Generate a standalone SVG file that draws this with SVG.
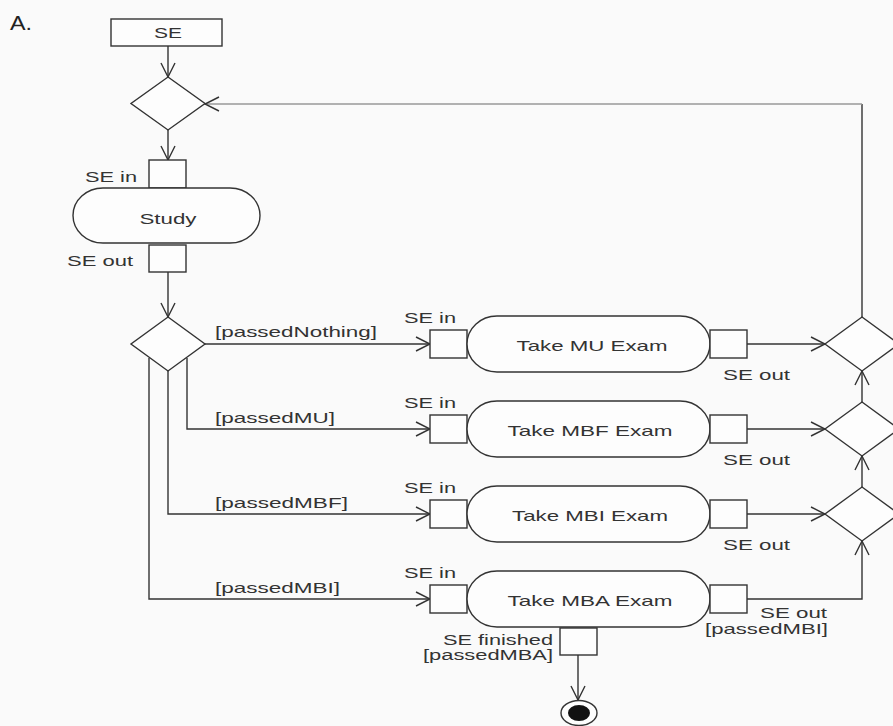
<svg xmlns="http://www.w3.org/2000/svg" width="893" height="726" viewBox="0 0 893 726">
<defs>
<marker id="arr" markerUnits="userSpaceOnUse" markerWidth="18" markerHeight="18" refX="15" refY="8" orient="auto" viewBox="0 0 18 16">
<path d="M1,1 L15,8 L1,15" fill="none" stroke="#333" stroke-width="1.4"/>
</marker>
<style>
.ln{fill:none;stroke:#333;stroke-width:1.4}
.lt{fill:none;stroke:#999;stroke-width:1.6}
.box{fill:#fdfdfd;stroke:#333;stroke-width:1.4}
.t{font-family:"Liberation Sans",Arial,sans-serif;font-size:15px;fill:#333}
.s{font-size:14px}
.c{text-anchor:middle}
</style>
</defs>
<rect width="893" height="726" fill="#fafafa"/>
<text x="10" y="30" font-family="Liberation Sans, Arial, sans-serif" font-size="21" fill="#222" textLength="22" lengthAdjust="spacingAndGlyphs">A.</text>

<g id="connectors">
<path class="ln" d="M168,46 L168,77" marker-end="url(#arr)"/>
<path class="ln" d="M168,130 L168,160" marker-end="url(#arr)"/>
<path class="ln" d="M168,272 L168,317" marker-end="url(#arr)"/>
<path class="ln" d="M862,317 L862,104"/>
<path class="lt" d="M862,104 L205,104" marker-end="url(#arr)"/>
<path class="ln" d="M205,344 L430,344" marker-end="url(#arr)"/>
<path class="ln" d="M187,358 L187,429 L430,429" marker-end="url(#arr)"/>
<path class="ln" d="M168,371 L168,514 L430,514" marker-end="url(#arr)"/>
<path class="ln" d="M149,358 L149,599 L430,599" marker-end="url(#arr)"/>
<path class="ln" d="M747,344 L825,344" marker-end="url(#arr)"/>
<path class="ln" d="M747,429 L825,429" marker-end="url(#arr)"/>
<path class="ln" d="M747,514 L825,514" marker-end="url(#arr)"/>
<path class="ln" d="M747,599 L862,599 L862,541" marker-end="url(#arr)"/>
<path class="ln" d="M862,487 L862,456" marker-end="url(#arr)"/>
<path class="ln" d="M862,402 L862,371" marker-end="url(#arr)"/>
<path class="ln" d="M578,655 L578,700" marker-end="url(#arr)"/>
</g>

<g id="se-object">
<rect class="box" x="111" y="19" width="111" height="27"/>
<text class="t c" x="168" y="38" textLength="28" lengthAdjust="spacingAndGlyphs">SE</text>
</g>

<g id="merge-top">
<polygon class="box" points="168,77 205,103.5 168,130 131,103.5"/>
</g>

<g id="study">
<rect class="box" x="149" y="160" width="37" height="28"/>
<text class="t" x="85" y="182" textLength="52" lengthAdjust="spacingAndGlyphs">SE in</text>
<rect class="box" x="73" y="188" width="187" height="55" rx="30" ry="27.5"/>
<text class="t c" x="168" y="224" textLength="57" lengthAdjust="spacingAndGlyphs">Study</text>
<rect class="box" x="149" y="245" width="37" height="27"/>
<text class="t" x="67" y="266" textLength="66" lengthAdjust="spacingAndGlyphs">SE out</text>
</g>

<g id="decision">
<polygon class="box" points="168,317 205,344 168,371 131,344"/>
<text class="t" x="215" y="337" textLength="162" lengthAdjust="spacingAndGlyphs">[passedNothing]</text>
<text class="t" x="215" y="423" textLength="120" lengthAdjust="spacingAndGlyphs">[passedMU]</text>
<text class="t" x="215" y="508" textLength="133" lengthAdjust="spacingAndGlyphs">[passedMBF]</text>
<text class="t" x="215" y="593" textLength="125" lengthAdjust="spacingAndGlyphs">[passedMBI]</text>
</g>

<g id="take-mu">
<rect class="box" x="430" y="330" width="37" height="28"/>
<text class="t" x="404" y="323" textLength="52" lengthAdjust="spacingAndGlyphs">SE in</text>
<rect class="box" x="467" y="316" width="243" height="56" rx="30" ry="28"/>
<text class="t c" x="592" y="351" textLength="151" lengthAdjust="spacingAndGlyphs">Take MU Exam</text>
<rect class="box" x="710" y="330" width="37" height="28"/>
<text class="t" x="723" y="380" textLength="67" lengthAdjust="spacingAndGlyphs">SE out</text>
</g>

<g id="take-mbf">
<rect class="box" x="430" y="415" width="37" height="28"/>
<text class="t" x="404" y="408" textLength="52" lengthAdjust="spacingAndGlyphs">SE in</text>
<rect class="box" x="467" y="401" width="243" height="56" rx="30" ry="28"/>
<text class="t c" x="590" y="436" textLength="165" lengthAdjust="spacingAndGlyphs">Take MBF Exam</text>
<rect class="box" x="710" y="415" width="37" height="28"/>
<text class="t" x="723" y="465" textLength="67" lengthAdjust="spacingAndGlyphs">SE out</text>
</g>

<g id="take-mbi">
<rect class="box" x="430" y="500" width="37" height="28"/>
<text class="t" x="404" y="493" textLength="52" lengthAdjust="spacingAndGlyphs">SE in</text>
<rect class="box" x="467" y="486" width="243" height="56" rx="30" ry="28"/>
<text class="t c" x="590" y="521" textLength="156" lengthAdjust="spacingAndGlyphs">Take MBI Exam</text>
<rect class="box" x="710" y="500" width="37" height="28"/>
<text class="t" x="723" y="550" textLength="67" lengthAdjust="spacingAndGlyphs">SE out</text>
</g>

<g id="take-mba">
<rect class="box" x="430" y="585" width="37" height="28"/>
<text class="t" x="404" y="578" textLength="52" lengthAdjust="spacingAndGlyphs">SE in</text>
<rect class="box" x="467" y="571" width="243" height="56" rx="30" ry="28"/>
<text class="t c" x="590" y="606" textLength="165" lengthAdjust="spacingAndGlyphs">Take MBA Exam</text>
<rect class="box" x="710" y="585" width="37" height="28"/>
<text class="t" x="760" y="618" textLength="67" lengthAdjust="spacingAndGlyphs">SE out</text>
<text class="t" x="705" y="634" textLength="123" lengthAdjust="spacingAndGlyphs">[passedMBI]</text>
<rect class="box" x="560" y="628" width="37" height="27"/>
<text class="t s" x="443" y="645" textLength="110" lengthAdjust="spacingAndGlyphs">SE finished</text>
<text class="t s" x="423" y="660" textLength="130" lengthAdjust="spacingAndGlyphs">[passedMBA]</text>
</g>

<g id="merge-1">
<polygon class="box" points="862,317 899,344 862,371 825,344"/>
</g>
<g id="merge-2">
<polygon class="box" points="862,402 899,429 862,456 825,429"/>
</g>
<g id="merge-3">
<polygon class="box" points="862,487 899,514 862,541 825,514"/>
</g>

<g id="final">
<ellipse cx="579" cy="713" rx="18" ry="12.5" fill="#fdfdfd" stroke="#333" stroke-width="1.4"/>
<ellipse cx="579" cy="713" rx="11" ry="8" fill="#111"/>
</g>
</svg>
